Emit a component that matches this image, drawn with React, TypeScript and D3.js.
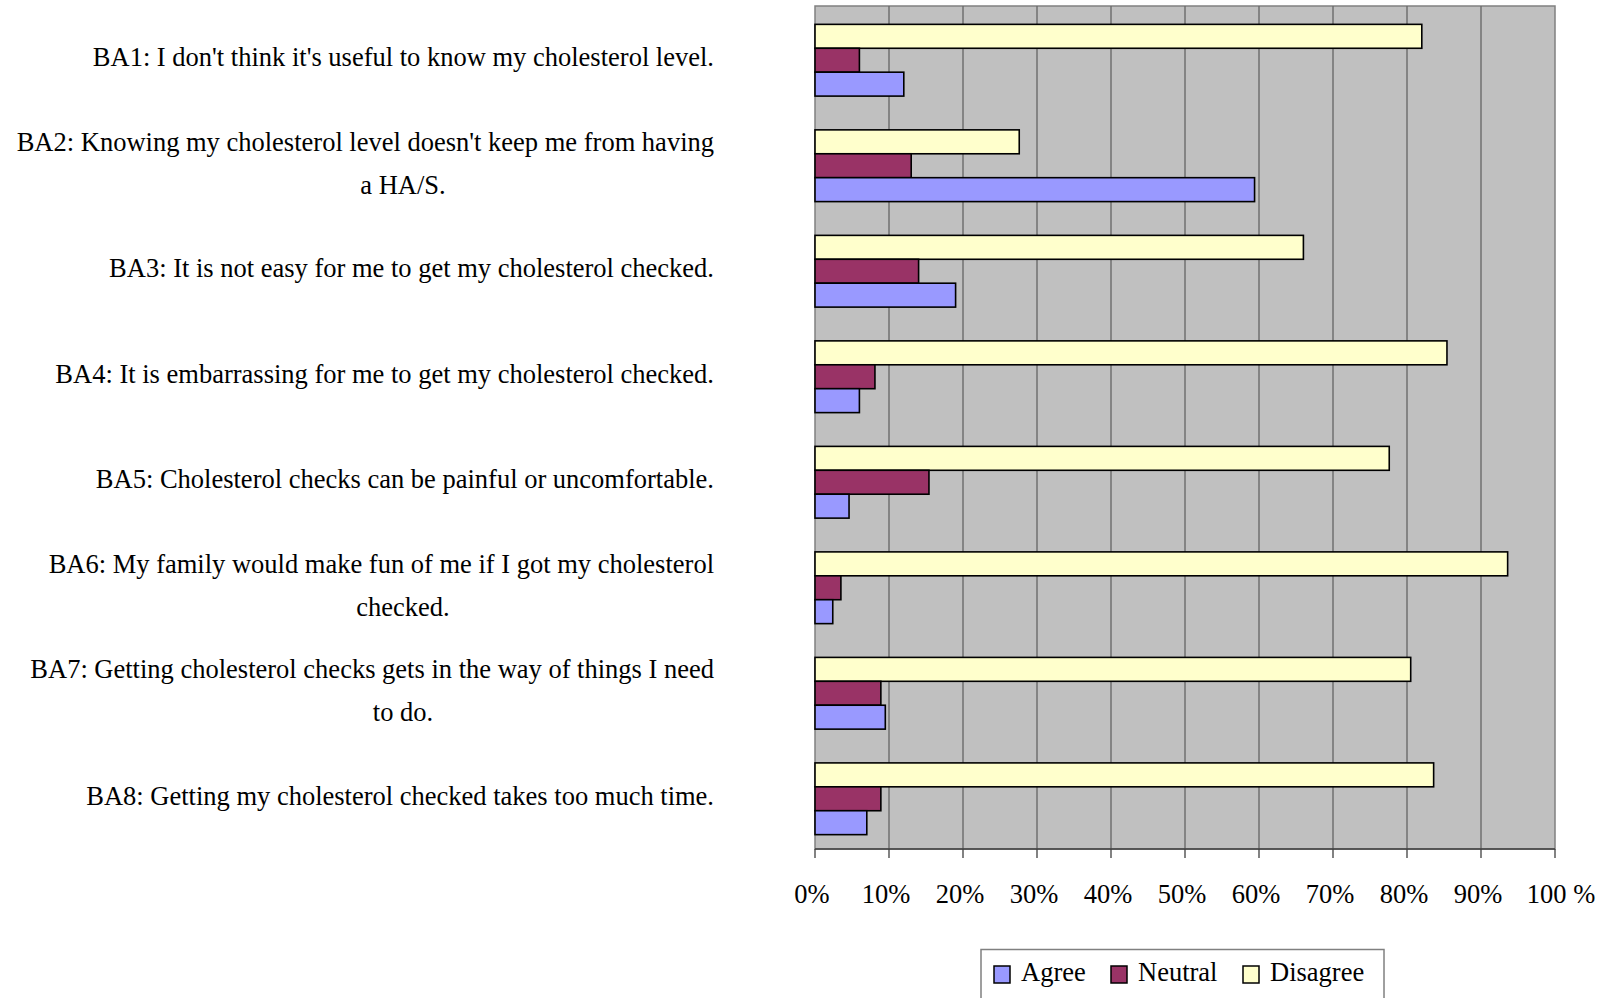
import * as d3 from "d3";

const W = 1610;
const H = 998;

const dms = {
  left: 815,
  right: 1555,
  top: 6,
  bottom: 849,
};

// label lines for each statement
const labels = [
  ["BA1: I don't think it's useful to know my cholesterol level."],
  ["BA2: Knowing my cholesterol level doesn't keep me from having", "a HA/S."],
  ["BA3: It is not easy for me to get my cholesterol checked."],
  ["BA4: It is embarrassing for me to get my cholesterol checked."],
  ["BA5: Cholesterol checks can be painful or uncomfortable."],
  ["BA6: My family would make fun of me if I got my cholesterol", "checked."],
  ["BA7: Getting cholesterol checks gets in the way of things I need", "to do."],
  ["BA8: Getting my cholesterol checked takes too much time."],
];
const cats = ["BA1", "BA2", "BA3", "BA4", "BA5", "BA6", "BA7", "BA8"];

const agree = [12, 59.4, 19, 6, 4.6, 2.4, 9.5, 7];
const neutral = [6, 13, 14, 8.1, 15.4, 3.5, 8.9, 8.9];
const disagree = [82, 27.6, 66, 85.4, 77.6, 93.6, 80.5, 83.6];

const seriesNames = ["Disagree", "Neutral", "Agree"];
const seriesData = [disagree, neutral, agree];
const colors: Record<string, string> = {
  Agree: "#9999ff",
  Neutral: "#993366",
  Disagree: "#ffffcc",
};
const legendOrder = ["Agree", "Neutral", "Disagree"];
const ticks = [0, 10, 20, 30, 40, 50, 60, 70, 80, 90, 100];

const font = "'Liberation Serif', 'Times New Roman', serif";
const fs = 26.5;

export default function App() {
  const x = d3.scaleLinear().domain([0, 100]).range([dms.left, dms.right]);
  const y = d3
    .scaleBand<string>()
    .domain(cats)
    .range([dms.top + 2, dms.bottom + 2])
    .paddingInner(0.32)
    .paddingOuter(0.155);
  const inner = d3
    .scaleBand<string>()
    .domain(seriesNames)
    .range([0, y.bandwidth()]);

  return (
    <svg
      width={W}
      height={H}
      style={{ position: "absolute", left: 0, top: 0, display: "block", background: "#fff" }}
      fontFamily={font}
    >
      {/* plot area */}
      <rect
        x={dms.left}
        y={dms.top}
        width={dms.right - dms.left}
        height={dms.bottom - dms.top}
        fill="#c0c0c0"
        stroke="#808080"
        strokeWidth={1.5}
      />
      {ticks.slice(1, -1).map((t) => (
        <line key={t} x1={x(t)} x2={x(t)} y1={dms.top} y2={dms.bottom} stroke="#6b6b6b" strokeWidth={1.4} />
      ))}

      {/* bars */}
      {cats.map((c, i) => (
        <g key={c} transform={`translate(0, ${y(c)})`}>
          {seriesNames.map((s, j) => (
            <rect
              key={s}
              x={x(0)}
              y={inner(s)}
              width={x(seriesData[j][i]) - x(0)}
              height={inner.bandwidth()}
              fill={colors[s]}
              stroke="#000"
              strokeWidth={1.6}
            />
          ))}
        </g>
      ))}

      {/* x axis */}
      <line x1={dms.left} x2={dms.right} y1={dms.bottom} y2={dms.bottom} stroke="#404040" strokeWidth={1.5} />
      {ticks.map((t) => (
        <g key={t}>
          <line x1={x(t)} x2={x(t)} y1={dms.bottom} y2={dms.bottom + 9} stroke="#404040" strokeWidth={1.3} />
          <text x={x(t) - 3 + (t === 100 ? 9 : 0)} y={dms.bottom + 54} textAnchor="middle" fontSize={fs} fill="#000">
            {t === 100 ? "100 %" : `${t}%`}
          </text>
        </g>
      ))}

      {/* category labels */}
      {cats.map((c, i) => {
        const cy = (y(c) as number) + y.bandwidth() / 2;
        const lines = labels[i];
        if (lines.length === 1) {
          return (
            <text key={c} x={714} y={cy + 6} textAnchor="end" fontSize={fs} fill="#000">
              {lines[0]}
            </text>
          );
        }
        return (
          <g key={c}>
            <text x={714} y={cy - 21 + 6} textAnchor="end" fontSize={fs} fill="#000">
              {lines[0]}
            </text>
            <text x={403} y={cy + 22 + 6} textAnchor="middle" fontSize={fs} fill="#000">
              {lines[1]}
            </text>
          </g>
        );
      })}

      {/* legend */}
      <rect x={981} y={949.5} width={403} height={70} fill="#fff" stroke="#808080" strokeWidth={1.5} />
      {legendOrder.map((s, i) => {
        const lx = [994, 1111, 1243][i];
        return (
          <g key={s}>
            <rect x={lx} y={966} width={16} height={17} fill={colors[s]} stroke="#000" strokeWidth={1.5} />
            <text x={lx + 27} y={981} fontSize={fs} fill="#000">
              {s}
            </text>
          </g>
        );
      })}
    </svg>
  );
}
